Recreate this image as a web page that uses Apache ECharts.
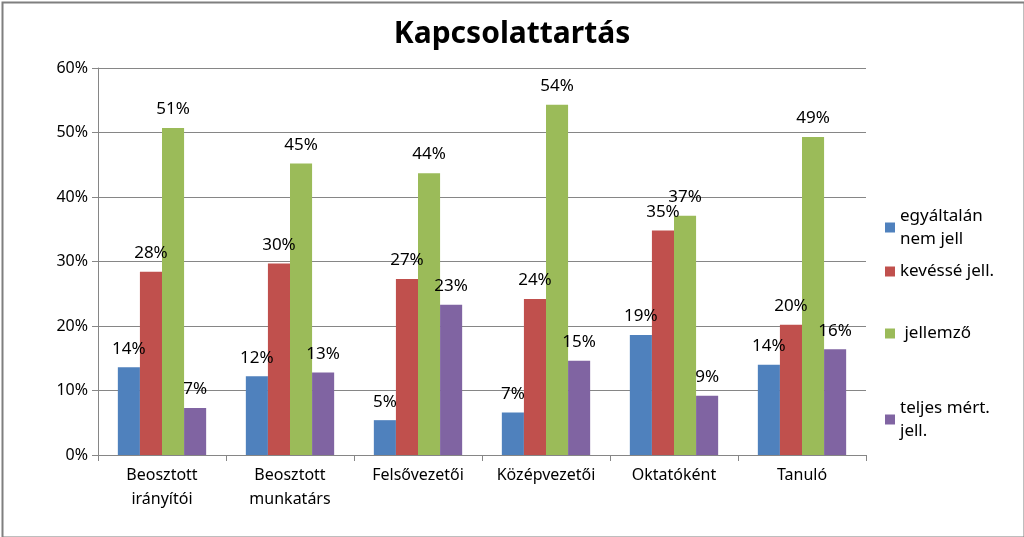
<!DOCTYPE html>
<html>
<head>
<meta charset="utf-8">
<script src="https://cdn.jsdelivr.net/npm/echarts@6/dist/echarts.min.js"></script>
<style>
html,body{margin:0;padding:0;background:#fff;}
#chart{width:1024px;height:537px;}
</style>
</head>
<body>
<div id="chart"></div>
<script>
const title = 'Kapcsolattartás';
const categories = ['Beosztott\nirányítói', 'Beosztott\nmunkatárs', 'Felsővezetői', 'Középvezetői', 'Oktatóként', 'Tanuló'];
const seriesNames = ['egyáltalán\nnem jell', 'kevéssé jell.', ' jellemző', 'teljes mért.\njell.'];
const egyaltalan = [13.6, 12.2, 5.4, 6.6, 18.6, 14.0];
const kevesse = [28.4, 29.7, 27.3, 24.2, 34.8, 20.2];
const jellemzo = [50.7, 45.2, 43.7, 54.3, 37.1, 49.3];
const teljes = [7.3, 12.8, 23.3, 14.6, 9.2, 16.4];
const yTicks = [0, 10, 20, 30, 40, 50, 60];

const colors = ['#4F81BD', '#C0504D', '#9BBB59', '#8064A2'];
const FONT = 'Noto Sans';
const allData = [egyaltalan, kevesse, jellemzo, teljes];

const chart = echarts.init(document.getElementById('chart'));

const legendTops = [188, 255, 317, 380];
const legends = seriesNames.map((n, i) => {
  const twoLine = n.indexOf('\n') >= 0;
  return {
    left: 880,
    top: legendTops[i],
    orient: 'vertical',
    data: [n],
    itemWidth: 10,
    itemHeight: 10,
    icon: 'rect',
    itemGap: 0,
    selectedMode: false,
    textStyle: {
      fontFamily: FONT, fontSize: 17, color: '#000', lineHeight: 23,
      padding: twoLine ? [23, 0, 0, 0] : [0, 0, 0, 0]
    }
  };
});

const option = {
  animation: false,
  color: colors,
  title: {
    text: title,
    left: 'center',
    top: 14,
    textStyle: { fontFamily: FONT, fontSize: 30, fontWeight: 'bold', color: '#000' }
  },
  graphic: [{
    type: 'rect', left: 0, top: 0, silent: true,
    shape: { x: 1, y: 1, width: 1022, height: 535 },
    style: { fill: 'none', stroke: '#7f7f7f', lineWidth: 2 }
  }],
  legend: legends,
  grid: { left: 98, right: 158, top: 68, bottom: 82 },
  xAxis: {
    type: 'category',
    data: categories,
    axisLine: { lineStyle: { color: '#868686', width: 1 } },
    axisTick: { show: true, length: 6, lineStyle: { color: '#868686' } },
    axisLabel: { fontFamily: FONT, fontSize: 16, color: '#000', lineHeight: 24, margin: 8, interval: 0 }
  },
  yAxis: {
    type: 'value',
    min: 0, max: 60, interval: 10,
    axisLine: { show: true, lineStyle: { color: '#868686', width: 1 } },
    axisTick: { show: true, length: 6, lineStyle: { color: '#868686' } },
    splitLine: { lineStyle: { color: '#868686', width: 1 } },
    axisLabel: { fontFamily: FONT, fontSize: 16, color: '#000', margin: 10, formatter: v => v + '%' }
  },
  series: seriesNames.map((n, i) => ({
    name: n,
    type: 'bar',
    data: allData[i],
    barGap: '0%',
    barCategoryGap: '31%',
    label: {
      show: true,
      position: 'top',
      distance: 10,
      fontFamily: FONT,
      fontSize: 17,
      color: '#000',
      formatter: p => Math.round(p.value) + '%'
    }
  }))
};
chart.setOption(option);
</script>
</body>
</html>
